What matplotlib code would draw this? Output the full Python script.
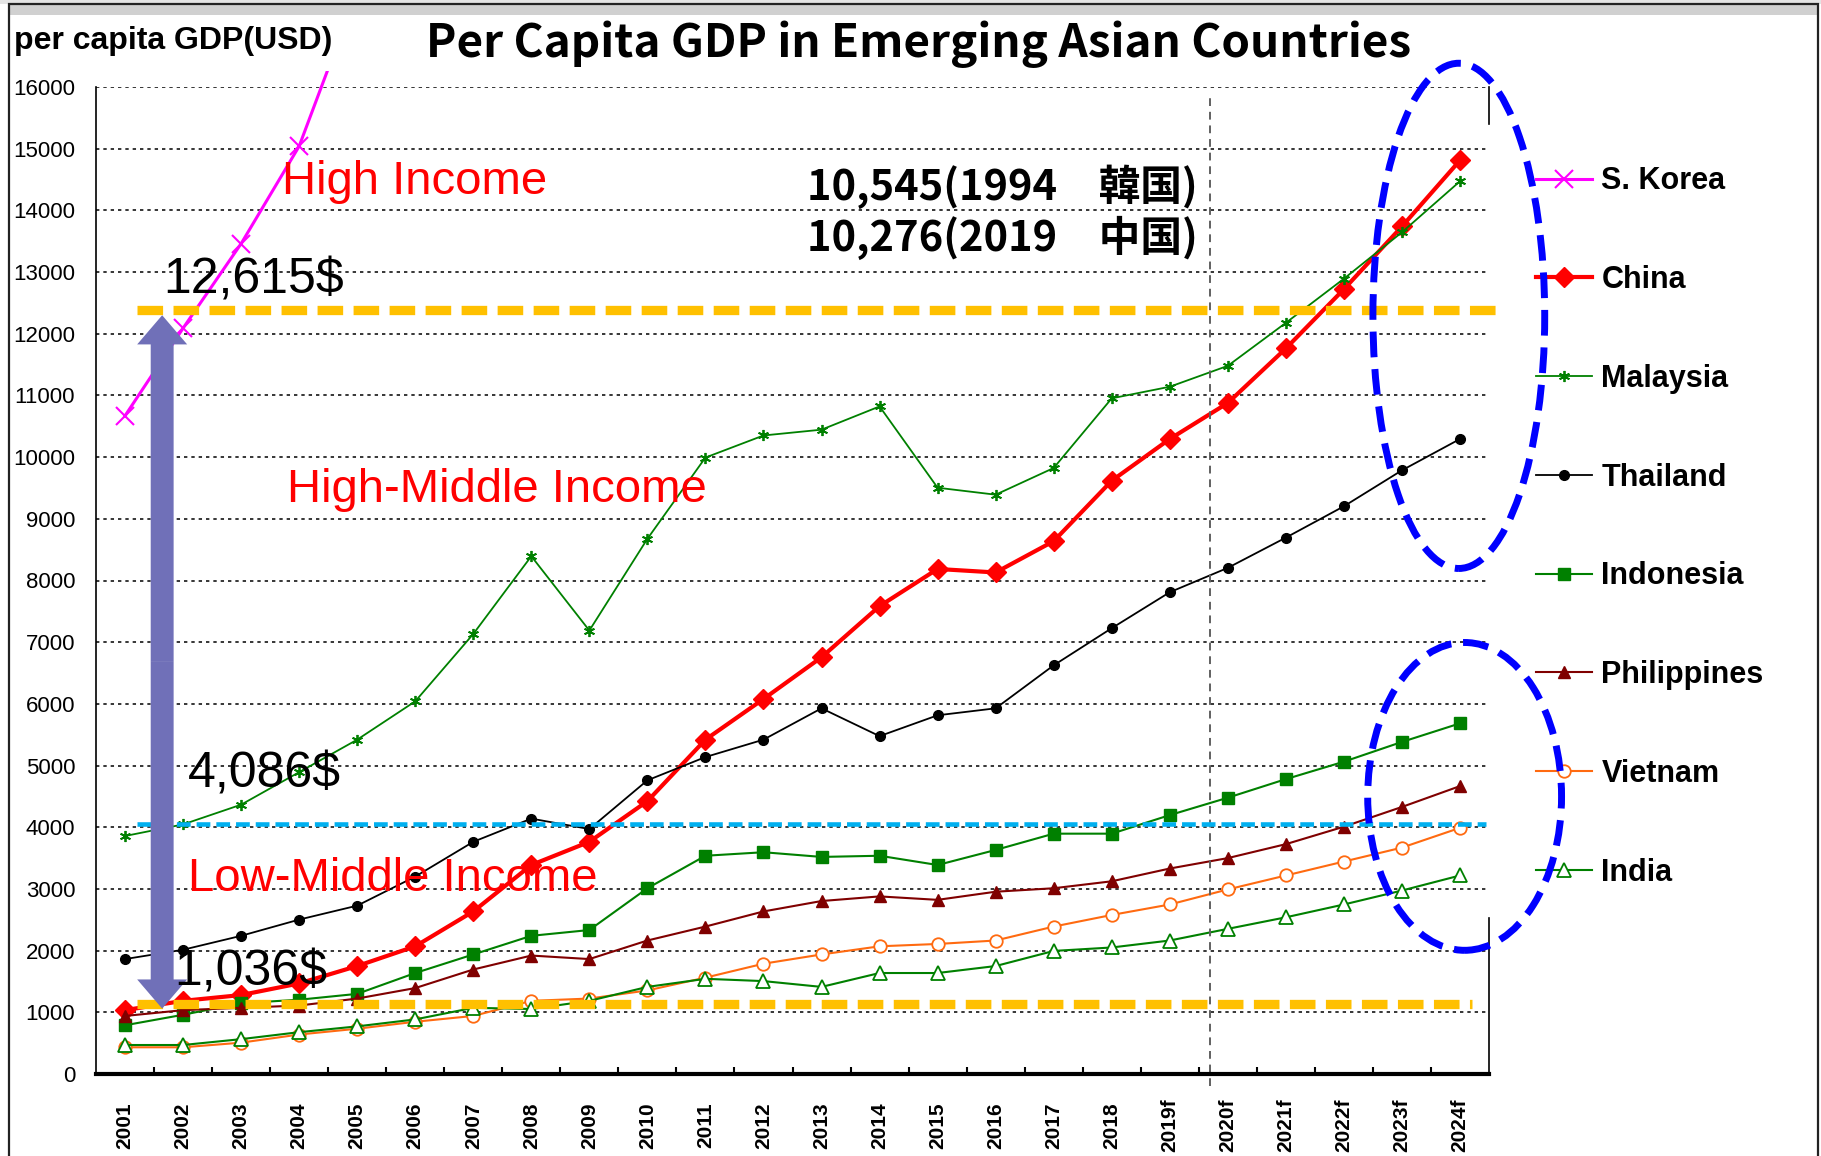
import matplotlib.pyplot as plt
from matplotlib.lines import Line2D
from matplotlib.patches import Ellipse, FancyArrowPatch, Rectangle
import numpy as np

# ---- data ----
years = ['2001', '2002', '2003', '2004', '2005', '2006', '2007', '2008', '2009', '2010',
         '2011', '2012', '2013', '2014', '2015', '2016', '2017', '2018', '2019f', '2020f',
         '2021f', '2022f', '2023f', '2024f']

korea = [10670, 12090, 13460, 15040, 17550]
china = [1035, 1186, 1280, 1468, 1750, 2070, 2635, 3388, 3764, 4423, 5420, 6079,
         6756, 7584, 8187, 8130, 8638, 9617, 10294, 10878, 11762, 12722, 13739, 14811]
malaysia = [3858, 4046, 4366, 4893, 5420, 6041, 7133, 8394, 7189, 8676, 9993, 10351,
            10445, 10822, 9504, 9391, 9824, 10953, 11141, 11480, 12177, 12892, 13645, 14472]
thailand = [1863, 2014, 2240, 2503, 2729, 3200, 3764, 4140, 3971, 4761, 5138, 5420,
            5928, 5477, 5815, 5928, 6625, 7227, 7810, 8205, 8695, 9203, 9786, 10294]
indonesia = [790, 960, 1148, 1204, 1299, 1637, 1938, 2240, 2334, 3011, 3538, 3595,
             3519, 3538, 3388, 3632, 3896, 3896, 4197, 4479, 4780, 5063, 5383, 5684]
philippines = [941, 1035, 1073, 1110, 1223, 1393, 1694, 1920, 1863, 2164, 2390, 2635,
               2804, 2879, 2823, 2955, 3011, 3124, 3331, 3500, 3726, 4009, 4329, 4667]
vietnam = [433, 433, 508, 640, 734, 847, 941, 1186, 1223, 1355, 1562, 1788,
           1938, 2070, 2108, 2164, 2390, 2578, 2748, 2992, 3218, 3444, 3670, 3990]
india = [470, 470, 565, 678, 772, 885, 1073, 1054, 1186, 1412, 1543, 1506,
         1412, 1637, 1637, 1750, 1995, 2051, 2164, 2353, 2540, 2748, 2974, 3218]

high_line = 12380     # drawn threshold lines
mid_line = 4046
low_line = 1129
high_label = '12,615$'
mid_label = '4,086$'
low_label = '1,036$'

W, H = 1821, 1156
fig = plt.figure(figsize=(W / 100, H / 100), dpi=100)
ax = fig.add_axes([96 / W, 1 - 1074 / H, (1489 - 96) / W, (1074 - 87) / H])
x = np.arange(len(years))

star = (6, 2, 0)
series = [
    ('S. Korea', korea, dict(color='#FF00FF', lw=2.2, marker='x', ms=13, mew=1.5)),
    ('China', china, dict(color='#FF0000', lw=3, marker='D', ms=10)),
    ('Malaysia', malaysia, dict(color='#008000', lw=1.3, marker=star, ms=8, mew=1.3)),
    ('Thailand', thailand, dict(color='black', lw=1.3, marker='o', ms=7)),
    ('Indonesia', indonesia, dict(color='#008000', lw=1.5, marker='s', ms=8)),
    ('Philippines', philippines, dict(color='#800000', lw=1.5, marker='^', ms=9)),
    ('Vietnam', vietnam, dict(color='#FF6A10', lw=1.5, marker='o', ms=9, mfc='white', mew=1.3)),
    ('India', india, dict(color='#008000', lw=1.5, marker='^', ms=10, mfc='white', mew=1.3)),
]

handles = []
for name, vals, st in series:
    ln, = ax.plot(x[:len(vals)], vals, **st)
    if name == 'S. Korea':
        ln.set_clip_path(Rectangle((0, 0), 1, 1.016, transform=ax.transAxes))
    handles.append(Line2D([], [], label=name, **st))

ax.set_xlim(-0.5, len(years) - 0.5)
ax.set_ylim(0, 16000)
ax.set_yticks(range(0, 16001, 1000))
ax.yaxis.grid(True, color='black', ls=(0, (2.2, 2.6)), lw=1.1)
ax.set_axisbelow(True)

ax.set_xticks(x)
ax.set_xticklabels(years, rotation=90, va='center', ha='center',
                   fontfamily='Liberation Sans', fontweight='bold', fontsize=15)
ax.set_xticks(x[:-1] + 0.5, minor=True)
ax.tick_params(axis='x', which='major', length=0, pad=37)
ax.tick_params(axis='x', which='minor', direction='in', length=5, width=1.5)
ax.tick_params(axis='y', length=0, pad=15, labelsize=16)
for lab in ax.get_yticklabels():
    lab.set_fontfamily('Liberation Sans')

ax.spines['top'].set_visible(False)
ax.spines['right'].set_visible(False)
ax.spines['left'].set_linewidth(1.2)
ax.spines['bottom'].set_linewidth(3)
# right spine only where the legend box does not cover it
for y0, y1 in [(0, 0.158), (0.9625, 1.0)]:
    ax.plot([1, 1], [y0, y1], transform=ax.transAxes, color='black', lw=1.2, clip_on=False)

# forecast divider
ax.axvline(18.7, ymin=-0.012, ymax=0.99, color='#606060', lw=1.4, ls=(0, (4, 3)), clip_on=False)

# income threshold lines
ax.plot([0.2, 23.64], [high_line, high_line], color='#FFC000', lw=6.7,
        ls=(0, (2.75, 1.12)), clip_on=False, zorder=6)
ax.plot([0.2, 23.2], [low_line, low_line], color='#FFC000', lw=6.7,
        ls=(0, (2.75, 1.12)), zorder=6)
ax.plot([0.2, 23.45], [mid_line, mid_line], color='#00B0F0', lw=3.3,
        ls=(0, (3.0, 1.3)), zorder=6)

# double-headed arrow between thresholds
arrow_x = 0.64
mid_y = (12300 + 1060) / 2
for tip in (12300, 1060):
    ax.add_patch(FancyArrowPatch((arrow_x, mid_y), (arrow_x, tip),
                                 arrowstyle='simple,head_length=21,head_width=36,tail_width=16.5',
                                 mutation_scale=1, shrinkA=0, shrinkB=0,
                                 color='#7070B8', lw=0, zorder=7))

# ellipses highlighting latest forecasts
ax.add_patch(Ellipse((22.98, 12290), 2.96, 8190, fill=False, edgecolor='#0000FF',
                     lw=5, ls=(0, (3.7, 1.7)), clip_on=False, zorder=8))
ax.add_patch(Ellipse((23.08, 4500), 3.34, 4990, fill=False, edgecolor='#0000FF',
                     lw=5, ls=(0, (3.7, 1.7)), clip_on=False, zorder=8))

ax.legend(handles=handles, loc='upper left', bbox_to_anchor=(1521 / W, 1 - 151 / H),
          bbox_transform=fig.transFigure, frameon=False, borderpad=0, numpoints=1,
          handlelength=1.83, handletextpad=0.3, labelspacing=2.25,
          prop=dict(family='Liberation Sans', weight='bold', size=22))


def ftext(px, py, s, **kw):
    fig.text(px / W, 1 - py / H, s, **kw)


cjk = ['Noto Sans CJK JP', 'DejaVu Sans']
ftext(919, 44, 'Per Capita GDP in Emerging Asian Countries', ha='center', va='center',
      family=cjk, fontweight='bold', fontsize=33)
ftext(14, 41, 'per capita GDP(USD)', ha='left', va='center',
      family='Liberation Sans', fontweight='bold', fontsize=23)

red_kw = dict(ha='left', va='baseline', color='#FF0000', family='Liberation Sans', fontsize=34)
ftext(282, 194, 'High Income', **red_kw)
ftext(287, 502, 'High-Middle Income', **red_kw)
ftext(188, 891, 'Low-Middle Income', **red_kw)

num_kw = dict(ha='left', va='baseline', color='black', family='Liberation Sans', fontsize=36)
ftext(163, 294, high_label, **num_kw)
ftext(188, 787, mid_label, **num_kw)
ftext(174, 985, low_label, **num_kw)

ftext(807, 200, '10,545(1994\u3000韓国)', ha='left', va='baseline',
      family=cjk, fontweight='bold', fontsize=30)
ftext(807, 251, '10,276(2019\u3000中国)', ha='left', va='baseline',
      family=cjk, fontweight='bold', fontsize=30)

# slide frame
fig.add_artist(Rectangle((0, 1 - 4 / H), 1, 4 / H, transform=fig.transFigure,
                         color='#E4E4E4', lw=0))
fig.add_artist(Rectangle((9 / W, 1 - 15 / H), (1818 - 9) / W, 11 / H,
                         transform=fig.transFigure, color='#D0D0D0', lw=0))
fig.add_artist(Rectangle((9 / W, -0.05), (1818 - 9) / W, 1.05 - 4 / H,
                         transform=fig.transFigure, fill=False, edgecolor='#222222', lw=1.6))

fig.savefig('out.png', dpi=100)
